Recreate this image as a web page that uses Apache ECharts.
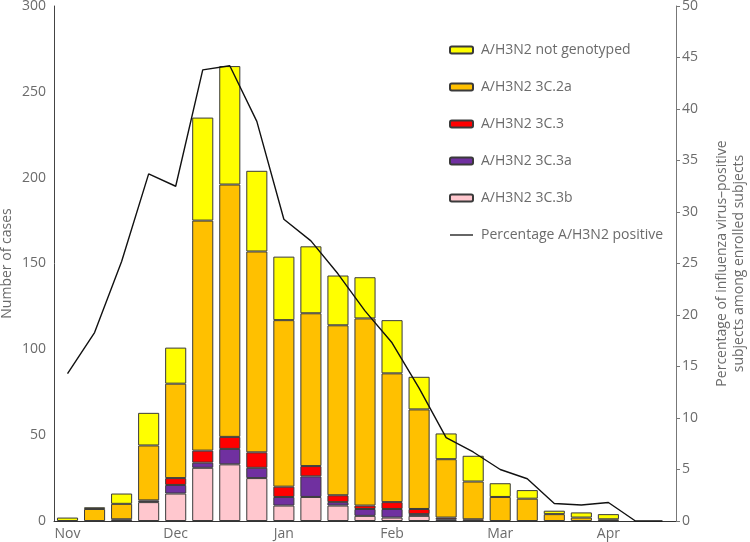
<!DOCTYPE html>
<html><head><meta charset="utf-8">
<script src="https://cdn.jsdelivr.net/npm/echarts@6/dist/echarts.min.js"></script>
<style>html,body{margin:0;padding:0;background:#fff}#c{width:750px;height:542px}</style>
</head><body><div id="c"></div>
<script>
var categories = ['Nov','Nov 2','Nov 3','Nov 4','Dec','Dec 2','Dec 3','Dec 4','Jan','Jan 2','Jan 3','Jan 4','Feb','Feb 2','Feb 3','Feb 4','Mar','Mar 2','Mar 3','Mar 4','Apr','Apr 2','Apr 3'];
var b3C3b = [0,0,0,11,16,31,33,25,9,14,9,3,2,3,0,0,0,0,0,0,0,0,0];
var b3C3a = [0,0,1,1,5,3,9,6,5,12,2,4,5,1,1,0,0,0,0,0,0,0,0];
var b3C3  = [0,0,0,0,4,7,7,9,6,6,4,2,4,3,1,1,0,0,0,0,0,0,0];
var b3C2a = [0,7,9,32,55,134,147,117,97,89,99,109,75,58,34,22,14,13,4,2,1,0,0];
var notGenotyped = [2,1,6,19,21,60,69,47,37,39,29,24,31,19,15,15,8,5,2,3,3,0,0];
var pctPositive = [14.3,18.3,25.2,33.7,32.5,43.8,44.2,38.8,29.3,27.2,24.0,20.4,17.3,12.9,8.1,6.7,5.0,4.1,1.7,1.55,1.8,0,0];
var leftTicks = {min:0, max:300, interval:50};
var rightTicks = {min:0, max:50, interval:5};

var FONT = 'Open Sans';
var GREY = '#6b6b6b';
function nz(a){ return a.map(function(v){ return v === 0 ? '-' : v; }); }
function barSeries(name, data, color){
  return {name:name, type:'bar', stack:'cases', data:nz(data), barCategoryGap:'22%',
    itemStyle:{color:color, borderColor:'#3a3a3a', borderWidth:1}};
}
var chart = echarts.init(document.getElementById('c'), null, {renderer:'canvas'});
chart.setOption({
  animation:false,
  textStyle:{fontFamily:FONT},
  grid:{left:54, right:74, top:6, bottom:21, containLabel:false, outerBoundsMode:'none'},
  legend:{orient:'vertical', left:444, top:38, itemWidth:23, itemHeight:7, itemGap:23,
    textStyle:{fontFamily:FONT, fontSize:14, color:GREY, padding:[0,0,0,3]},
    data:[{name:'A/H3N2 not genotyped'},{name:'A/H3N2 3C.2a'},{name:'A/H3N2 3C.3'},{name:'A/H3N2 3C.3a'},{name:'A/H3N2 3C.3b'},
      {name:'Percentage A/H3N2 positive', itemStyle:{opacity:0}, lineStyle:{color:'#666', width:2}}]},
  xAxis:{type:'category', data:categories,
    axisLine:{show:true, lineStyle:{color:'#333', width:1}},
    axisTick:{show:false},
    axisLabel:{interval:3, color:GREY, fontSize:14, fontFamily:FONT, margin:6,
      formatter:function(v){ return v.split(' ')[0]; }}},
  yAxis:[
    {type:'value', min:leftTicks.min, max:leftTicks.max, interval:leftTicks.interval,
     name:'Number of cases', nameLocation:'middle', nameGap:40, nameRotate:90, nameMoveOverlap:false,
     nameTextStyle:{color:GREY, fontSize:14, fontFamily:FONT},
     axisLine:{show:true, lineStyle:{color:'#444'}}, axisTick:{show:false},
     axisLabel:{color:GREY, fontSize:14, fontFamily:FONT, margin:8},
     splitLine:{show:false}},
    {type:'value', position:'right', min:rightTicks.min, max:rightTicks.max, interval:rightTicks.interval,
     name:'Percentage of influenza virus\u2013positive\nsubjects among enrolled subjects', nameLocation:'middle', nameGap:38, nameRotate:90,
     nameTextStyle:{color:GREY, fontSize:14, fontFamily:FONT, lineHeight:17},
     axisLine:{show:true, lineStyle:{color:'#777'}}, axisTick:{show:true, length:4, lineStyle:{color:'#777'}},
     axisLabel:{color:GREY, fontSize:14, fontFamily:FONT, margin:6},
     splitLine:{show:false}}
  ],
  series:[
    barSeries('A/H3N2 3C.3b', b3C3b, '#FFC7CE'),
    barSeries('A/H3N2 3C.3a', b3C3a, '#7030A0'),
    barSeries('A/H3N2 3C.3', b3C3, '#FF0000'),
    barSeries('A/H3N2 3C.2a', b3C2a, '#FFC000'),
    barSeries('A/H3N2 not genotyped', notGenotyped, '#FFFF00'),
    {name:'Percentage A/H3N2 positive', type:'line', yAxisIndex:1, data:pctPositive, symbol:'none',
     lineStyle:{color:'#111', width:1.4}, itemStyle:{color:'#111'}, z:5}
  ]
});
</script></body></html>
